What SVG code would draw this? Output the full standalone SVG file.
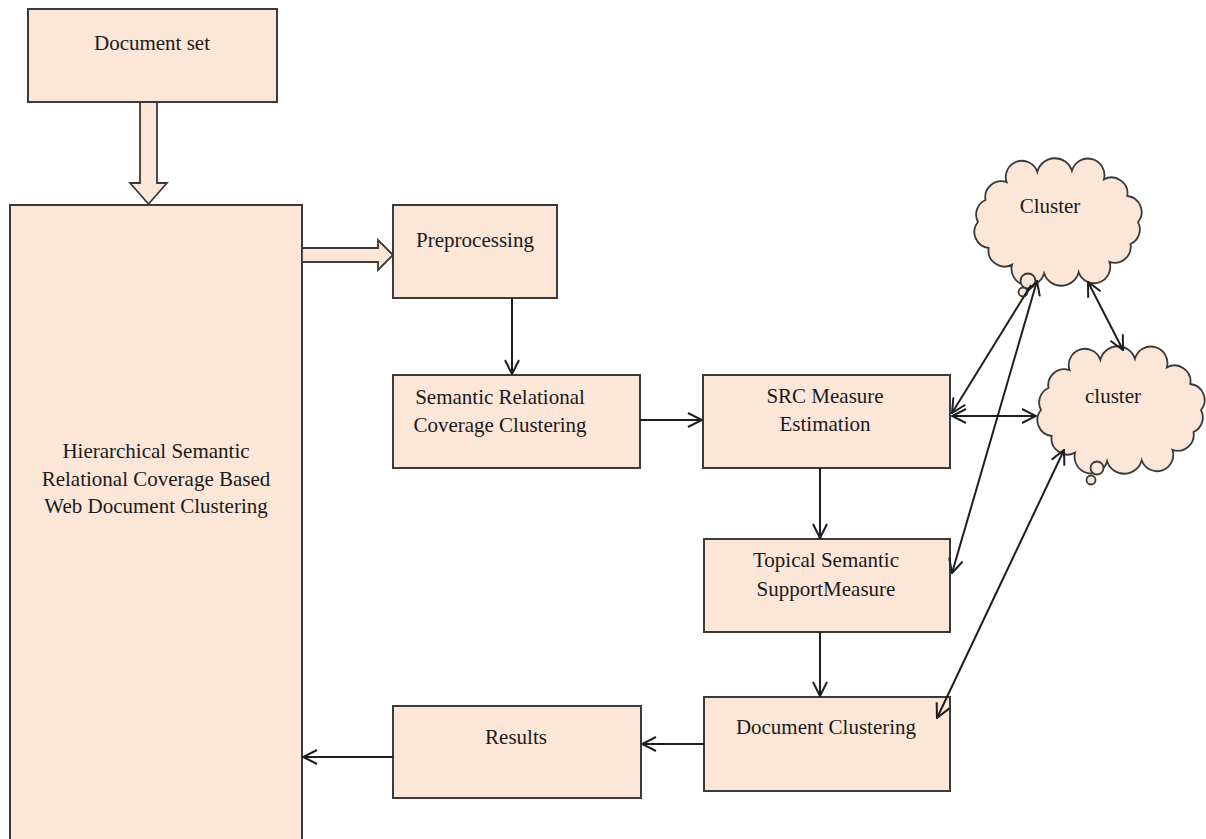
<svg xmlns="http://www.w3.org/2000/svg" xmlns:xlink="http://www.w3.org/1999/xlink" width="1206" height="839" viewBox="0 0 1206 839">
<style>
.box{fill:#fce6d8;stroke:#3a3a3a;stroke-width:2}
.blk{fill:#fce6d8;stroke:#3a3a3a;stroke-width:1.8;stroke-linejoin:miter}
.t{font-family:"Liberation Serif","Times New Roman",serif;font-size:21px;fill:#1a1a1a;text-anchor:middle}
.c{fill:none;stroke:#1e1e1e;stroke-width:2}
.a{marker-end:url(#ah)}
.d{marker-start:url(#ah);marker-end:url(#ah)}
.cloud{fill:#fce6d8;stroke:#3a3a3a;stroke-width:1.8}
</style>
<defs>
<marker id="ah" viewBox="0 0 16 16" refX="15" refY="8" markerWidth="16" markerHeight="16" markerUnits="userSpaceOnUse" orient="auto-start-reverse">
<path d="M1,1 L15,8 L1,15" fill="none" stroke="#1e1e1e" stroke-width="2"/>
</marker>
<path id="cloudShape" d="M1138,222 A16,16 0 0 1 1130.5,244 A16,16 0 0 1 1109.4,261.8 A16,16 0 0 1 1078.7,272.2 A18,18 0 0 1 1044.1,273.2 A16,16 0 0 1 1012.1,264.6 A16,16 0 0 1 988.7,248 A16,16 0 0 1 978,222 A16,16 0 0 1 985.5,200 A16,16 0 0 1 1006.6,182.2 A16,16 0 0 1 1037.3,171.8 A18,18 0 0 1 1071.9,170.8 A16,16 0 0 1 1103.9,179.4 A16,16 0 0 1 1127.3,196 A16,16 0 0 1 1138,222 Z"/>
</defs>
<rect width="1206" height="839" fill="#ffffff"/>

<g id="document-set">
<rect class="box" x="28" y="9" width="249" height="93"/>
<text class="t" x="152" y="50">Document set</text>
</g>

<g id="hsrc">
<rect class="box" x="10" y="205" width="292" height="640"/>
<text class="t" x="156" y="458">Hierarchical Semantic</text>
<text class="t" x="156" y="486">Relational Coverage Based</text>
<text class="t" x="156" y="513">Web Document Clustering</text>
</g>

<g id="preprocessing">
<rect class="box" x="393" y="205" width="164" height="93"/>
<text class="t" x="475" y="247">Preprocessing</text>
</g>

<g id="src-clustering">
<rect class="box" x="393" y="375" width="247" height="93"/>
<text class="t" x="500" y="404">Semantic Relational</text>
<text class="t" x="500" y="432">Coverage Clustering</text>
</g>

<g id="src-measure">
<rect class="box" x="703" y="375" width="247" height="93"/>
<text class="t" x="825" y="403">SRC Measure</text>
<text class="t" x="825" y="431">Estimation</text>
</g>

<g id="topical">
<rect class="box" x="704" y="539" width="246" height="93"/>
<text class="t" x="826" y="567">Topical Semantic</text>
<text class="t" x="826" y="596">SupportMeasure</text>
</g>

<g id="doc-clustering">
<rect class="box" x="704" y="697" width="246" height="94"/>
<text class="t" x="826" y="734">Document Clustering</text>
</g>

<g id="results">
<rect class="box" x="393" y="706" width="248" height="92"/>
<text class="t" x="516" y="744">Results</text>
</g>

<g id="cluster-1">
<use xlink:href="#cloudShape" class="cloud"/>
<circle class="cloud" cx="1028" cy="281" r="7.5"/>
<circle class="cloud" cx="1023" cy="292" r="4.5"/>
<text class="t" x="1050" y="213">Cluster</text>
</g>

<g id="cluster-2">
<use xlink:href="#cloudShape" class="cloud" transform="translate(63,188)"/>
<circle class="cloud" cx="1097" cy="468" r="6.5"/>
<circle class="cloud" cx="1091" cy="480" r="4.5"/>
<text class="t" x="1113" y="403">cluster</text>
</g>

<g id="connectors">
<polygon class="blk" points="140,102 157,102 157,183 167,183 148.5,204 130,183 140,183"/>
<polygon class="blk" points="302,248 378,248 378,240 393,255 378,270 378,262 302,262"/>
<line class="c a" x1="512" y1="298" x2="512" y2="374"/>
<line class="c a" x1="640" y1="420" x2="702" y2="420"/>
<line class="c a" x1="820" y1="468" x2="820" y2="538"/>
<line class="c a" x1="820" y1="632" x2="820" y2="696"/>
<line class="c a" x1="704" y1="744" x2="642" y2="744"/>
<line class="c a" x1="393" y1="757" x2="303" y2="757"/>
<line class="c d" x1="1088" y1="282" x2="1123" y2="350"/>
<line class="c a" x1="1031" y1="285" x2="952" y2="413"/>
<line class="c d" x1="952" y1="416" x2="1036" y2="416"/>
<line class="c d" x1="952" y1="573" x2="1037" y2="281"/>
<line class="c d" x1="937" y1="718" x2="1064" y2="450"/>
</g>
</svg>
